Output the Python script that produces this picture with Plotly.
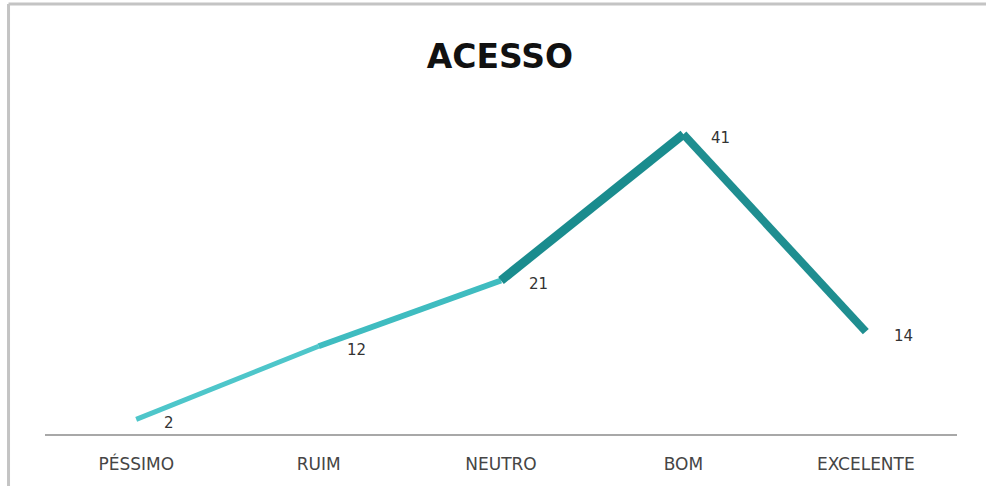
import plotly.graph_objects as go

categories = ["PÉSSIMO", "RUIM", "NEUTRO", "BOM", "EXCELENTE"]
values = [2, 12, 21, 41, 14]
segment_colors = ["#4ec6ca", "#3fbcc0", "#1a8c8e", "#1f8e90"]
segment_widths = [5, 6, 9, 8]

fig = go.Figure()
for i in range(len(categories) - 1):
    fig.add_trace(go.Scatter(
        x=[categories[i], categories[i + 1]],
        y=[values[i], values[i + 1]],
        mode="lines",
        line=dict(color=segment_colors[i], width=segment_widths[i]),
        hoverinfo="skip",
        showlegend=False,
    ))

for c, v in zip(categories, values):
    fig.add_annotation(
        x=c, y=v, xref="x", yref="y", text=str(v), showarrow=False,
        xanchor="left", yanchor="middle", xshift=26, yshift=-4,
        font=dict(family="DejaVu Sans", size=15, color="#333333"),
    )

fig.update_layout(
    width=986, height=486,
    margin=dict(l=45, r=29, t=105, b=52),
    paper_bgcolor="white", plot_bgcolor="white",
    title=dict(text="<b>ACESSO</b>", x=0.507, xanchor="center", y=0.883, yanchor="middle",
               font=dict(family="DejaVu Sans", size=33, color="#111111")),
    xaxis=dict(type="category", range=[-0.5, 4.5], showline=True, linecolor="#a8a8a8", linewidth=1.5,
               showgrid=False, ticks="", zeroline=False, ticklabelstandoff=14,
               tickfont=dict(family="DejaVu Sans", size=17, color="#454545")),
    yaxis=dict(range=[0, 45], visible=False, showgrid=False, zeroline=False),
    shapes=[
        dict(type="line", xref="paper", yref="paper", x0=-0.04, x1=1.04, y0=1.307, y1=1.307,
             line=dict(color="#c4c4c4", width=3)),
        dict(type="line", xref="paper", yref="paper", x0=-0.04, x1=-0.04, y0=-0.2, y1=1.307,
             line=dict(color="#c4c4c4", width=3)),
    ],
)

fig.write_html("out.html", config={"displayModeBar": False},
               post_script="document.body.style.margin='0';")
